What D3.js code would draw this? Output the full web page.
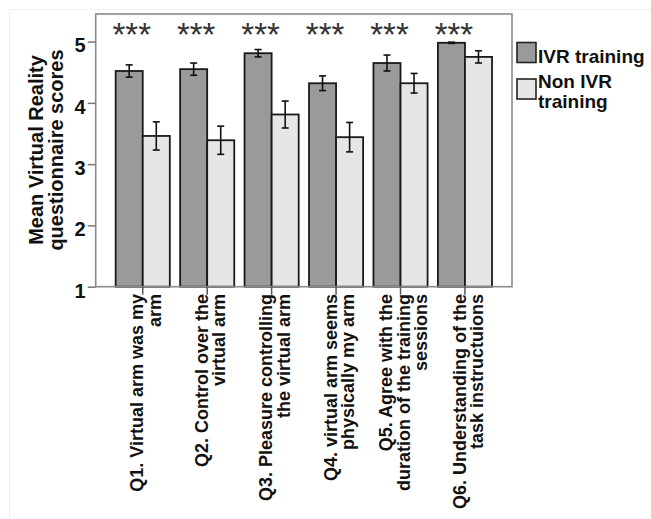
<!DOCTYPE html>
<html>
<head>
<meta charset="utf-8">
<script src="https://cdn.jsdelivr.net/npm/d3@7/dist/d3.min.js"></script>
<style>
  html, body { margin: 0; padding: 0; background: #fff; }
  svg { display: block; font-family: "Liberation Sans", Arial, sans-serif; }
</style>
</head>
<body>
<svg id="chart" width="651" height="519"></svg>
<script>
// Questionnaire items (each label split into its display lines)
const questions = [
  ["Q1. Virtual arm was my", "arm"],
  ["Q2. Control over the", "virtual arm"],
  ["Q3. Pleasure controlling", "the virtual arm"],
  ["Q4. virtual arm seems", "physically my arm"],
  ["Q5. Agree with the", "duration of the training", "sessions"],
  ["Q6. Understanding of the", "task instructuions"]
];
const groups = ["IVR training", "Non IVR training"];

// Mean scores and error bar half-widths
const ivrMeans = [4.52, 4.55, 4.81, 4.32, 4.65, 4.98];
const ivrErrors = [0.10, 0.10, 0.06, 0.12, 0.13, 0.01];
const nonIvrMeans = [3.46, 3.39, 3.81, 3.44, 4.32, 4.75];
const nonIvrErrors = [0.23, 0.23, 0.22, 0.24, 0.16, 0.10];

// Significance marks above each item
const significance = ["***", "***", "***", "***", "***", "***"];

const yTicks = [1, 2, 3, 4, 5];
const yTitle = ["Mean Virtual Reality", "questionnaire scores"];

const svg = d3.select("#chart");

// faint outer border
svg.append("path")
  .attr("d", "M9.5,519 V9.5 H651")
  .attr("fill", "none")
  .attr("stroke", "#f0f0f0")
  .attr("stroke-width", 1);

const plot = { left: 95.7, top: 14, right: 512, bottom: 286.7 };

const x0 = d3.scaleBand()
  .domain(d3.range(questions.length))
  .range([plot.left, plot.right])
  .paddingInner(0.16)
  .paddingOuter(0.31);

const x1 = d3.scaleBand()
  .domain(groups)
  .range([0, x0.bandwidth()])
  .padding(0);

const y = d3.scaleLinear()
  .domain([1, 5.45])
  .range([plot.bottom, plot.top]);

const fills = { "IVR training": "#9a9a9a", "Non IVR training": "#e6e6e6" };

const rows = questions.map((q, i) => ({
  i,
  values: [
    { g: groups[0], v: ivrMeans[i], e: ivrErrors[i] },
    { g: groups[1], v: nonIvrMeans[i], e: nonIvrErrors[i] }
  ]
}));

// bars
const gBars = svg.append("g");
const bar = gBars.selectAll("g.q")
  .data(rows)
  .join("g")
  .attr("class", "q")
  .attr("transform", d => `translate(${x0(d.i)},0)`);

bar.selectAll("rect")
  .data(d => d.values)
  .join("rect")
  .attr("x", d => x1(d.g))
  .attr("y", d => y(d.v))
  .attr("width", x1.bandwidth())
  .attr("height", d => y(1) - y(d.v))
  .attr("fill", d => fills[d.g])
  .attr("stroke", "#1a1a1a")
  .attr("stroke-width", 1.8);

// error bars
const capW = 7;
const err = bar.selectAll("g.err")
  .data(d => d.values)
  .join("g")
  .attr("class", "err")
  .attr("stroke", "#111")
  .attr("stroke-width", 1.6);
err.append("line")
  .attr("x1", d => x1(d.g) + x1.bandwidth() / 2)
  .attr("x2", d => x1(d.g) + x1.bandwidth() / 2)
  .attr("y1", d => y(d.v - d.e))
  .attr("y2", d => y(d.v + d.e));
err.append("line")
  .attr("x1", d => x1(d.g) + x1.bandwidth() / 2 - capW / 2)
  .attr("x2", d => x1(d.g) + x1.bandwidth() / 2 + capW / 2)
  .attr("y1", d => y(d.v + d.e))
  .attr("y2", d => y(d.v + d.e));
err.append("line")
  .attr("x1", d => x1(d.g) + x1.bandwidth() / 2 - capW / 2)
  .attr("x2", d => x1(d.g) + x1.bandwidth() / 2 + capW / 2)
  .attr("y1", d => y(d.v - d.e))
  .attr("y2", d => y(d.v - d.e));

// plot frame
svg.append("rect")
  .attr("x", plot.left)
  .attr("y", plot.top)
  .attr("width", plot.right - plot.left)
  .attr("height", plot.bottom - plot.top)
  .attr("fill", "none")
  .attr("stroke", "#8a8a8a")
  .attr("stroke-width", 1.6);

// y axis
const yAxis = svg.append("g")
  .attr("transform", `translate(${plot.left},0)`)
  .call(d3.axisLeft(y).tickValues(yTicks).tickFormat(d3.format("d")).tickSize(8).tickPadding(2));
yAxis.select(".domain").remove();
yAxis.selectAll(".tick line").attr("stroke", "#777").attr("stroke-width", 1.5);
yAxis.selectAll(".tick text")
  .attr("fill", "#111")
  .attr("font-size", 20)
  .attr("font-weight", "bold")
  .attr("font-family", "'Liberation Sans', Arial, sans-serif")
  .attr("dy", "0.52em");

// x axis ticks at item centres
const xAxis = svg.append("g")
  .attr("transform", `translate(0,${plot.bottom})`)
  .call(d3.axisBottom(x0).tickSize(8).tickFormat(""));
xAxis.select(".domain").remove();
xAxis.selectAll(".tick line").attr("stroke", "#555").attr("stroke-width", 1.5);

// rotated item labels
const lineGap = 17.5;
const labels = svg.append("g")
  .attr("font-size", 18)
  .attr("font-weight", "bold")
  .attr("fill", "#111");
questions.forEach((lines, i) => {
  const cx = x0(i) + x0.bandwidth() / 2 + 3;
  const n = lines.length;
  lines.forEach((t, k) => {
    const lx = cx + (k - (n - 1) / 2) * lineGap;
    labels.append("text")
      .attr("transform", `translate(${lx},294) rotate(-90)`)
      .attr("text-anchor", "end")
      .attr("dy", "0.36em")
      .text(t);
  });
});

// significance stars
svg.append("g")
  .selectAll("text")
  .data(significance)
  .join("text")
  .attr("x", (d, i) => x0(i) + x0.bandwidth() / 2 - 11)
  .attr("y", 46)
  .attr("text-anchor", "middle")
  .attr("font-size", 33)
  .attr("fill", "#333")
  .text(d => d);

// y axis title
const yt = svg.append("g")
  .attr("font-size", 20)
  .attr("font-weight", "bold")
  .attr("fill", "#111");
yTitle.forEach((t, k) => {
  yt.append("text")
    .attr("transform", `translate(${43 + k * 20},150) rotate(-90)`)
    .attr("text-anchor", "middle")
    .text(t);
});

// legend
const legend = svg.append("g")
  .attr("font-size", 19)
  .attr("font-weight", "bold")
  .attr("fill", "#111");
legend.append("rect")
  .attr("x", 517).attr("y", 42.5).attr("width", 19).attr("height", 20)
  .attr("fill", fills[groups[0]]).attr("stroke", "#222").attr("stroke-width", 1.6);
legend.append("text").attr("x", 538).attr("y", 63).text("IVR training");
legend.append("rect")
  .attr("x", 517).attr("y", 79).attr("width", 19).attr("height", 20)
  .attr("fill", fills[groups[1]]).attr("stroke", "#222").attr("stroke-width", 1.6);
legend.append("text").attr("x", 538).attr("y", 88).text("Non IVR");
legend.append("text").attr("x", 538).attr("y", 108).text("training");
</script>
</body>
</html>
